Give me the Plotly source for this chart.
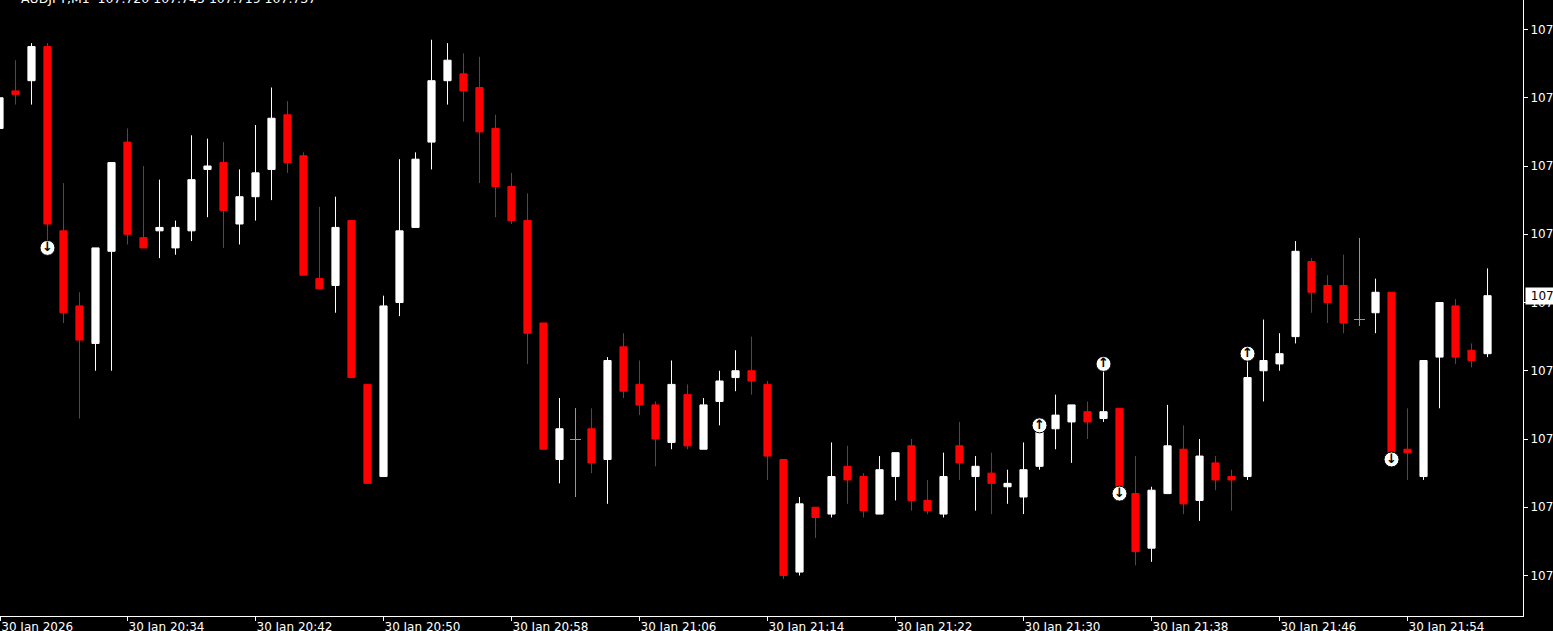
import plotly.graph_objects as go
import pandas as pd

# ---- data (AUDJPY M1, 30 Jan 2026) ----
times = pd.date_range("2026-01-30 20:26", periods=94, freq="min")

opens = [107.786, 107.797, 107.800, 107.810, 107.756, 107.734, 107.723, 107.750, 107.782, 107.754,
         107.756, 107.751, 107.756, 107.774, 107.776, 107.758, 107.766, 107.774, 107.790, 107.778,
         107.742, 107.740, 107.759, 107.711, 107.684, 107.735, 107.757, 107.782, 107.800, 107.802,
         107.798, 107.786, 107.769, 107.759, 107.729, 107.689, 107.695, 107.698, 107.689, 107.722,
         107.711, 107.705, 107.694, 107.708, 107.692, 107.706, 107.713, 107.715, 107.711, 107.689,
         107.656, 107.675, 107.673, 107.687, 107.684, 107.673, 107.684, 107.693, 107.677, 107.673,
         107.693, 107.684, 107.685, 107.681, 107.678, 107.687, 107.698, 107.700, 107.703, 107.701,
         107.704, 107.679, 107.663, 107.679, 107.692, 107.677, 107.688, 107.684, 107.684, 107.715,
         107.717, 107.725, 107.747, 107.740, 107.740, 107.730, 107.732, 107.738, 107.692, 107.684,
         107.719, 107.734, 107.721, 107.720]
highs = [107.796, 107.806, 107.811, 107.811, 107.770, 107.738, 107.751, 107.776, 107.786, 107.775,
         107.771, 107.759, 107.784, 107.783, 107.782, 107.774, 107.787, 107.798, 107.794, 107.779,
         107.763, 107.766, 107.759, 107.711, 107.737, 107.777, 107.779, 107.812, 107.811, 107.808,
         107.807, 107.790, 107.773, 107.767, 107.729, 107.707, 107.704, 107.704, 107.719, 107.726,
         107.718, 107.706, 107.718, 107.711, 107.707, 107.715, 107.721, 107.725, 107.712, 107.689,
         107.678, 107.675, 107.694, 107.693, 107.685, 107.690, 107.691, 107.695, 107.683, 107.691,
         107.700, 107.690, 107.691, 107.686, 107.694, 107.699, 107.708, 107.705, 107.706, 107.717,
         107.704, 107.690, 107.681, 107.705, 107.699, 107.695, 107.690, 107.686, 107.720, 107.730,
         107.726, 107.753, 107.748, 107.743, 107.749, 107.754, 107.742, 107.738, 107.704, 107.718,
         107.735, 107.736, 107.723, 107.745]
lows = [107.785, 107.793, 107.793, 107.752, 107.729, 107.701, 107.715, 107.715, 107.752, 107.751,
        107.748, 107.749, 107.753, 107.760, 107.751, 107.752, 107.759, 107.765, 107.773, 107.743,
        107.739, 107.732, 107.713, 107.682, 107.684, 107.731, 107.757, 107.774, 107.793, 107.788,
        107.770, 107.760, 107.758, 107.717, 107.692, 107.682, 107.678, 107.685, 107.676, 107.707,
        107.702, 107.687, 107.692, 107.692, 107.692, 107.699, 107.709, 107.708, 107.683, 107.654,
        107.655, 107.666, 107.672, 107.676, 107.672, 107.673, 107.677, 107.674, 107.673, 107.672,
        107.683, 107.674, 107.673, 107.676, 107.673, 107.686, 107.692, 107.688, 107.695, 107.700,
        107.679, 107.658, 107.659, 107.679, 107.673, 107.671, 107.680, 107.674, 107.683, 107.706,
        107.715, 107.723, 107.732, 107.729, 107.726, 107.728, 107.726, 107.689, 107.683, 107.683,
        107.704, 107.717, 107.716, 107.719]
closes = [107.795, 107.796, 107.810, 107.758, 107.732, 107.724, 107.751, 107.776, 107.755, 107.751,
          107.757, 107.757, 107.771, 107.775, 107.762, 107.766, 107.773, 107.789, 107.776, 107.743,
          107.739, 107.757, 107.713, 107.682, 107.734, 107.756, 107.777, 107.800, 107.806, 107.797,
          107.785, 107.769, 107.759, 107.726, 107.692, 107.698, 107.695, 107.688, 107.718, 107.709,
          107.705, 107.695, 107.711, 107.693, 107.705, 107.712, 107.715, 107.712, 107.690, 107.655,
          107.676, 107.672, 107.684, 107.683, 107.674, 107.686, 107.691, 107.677, 107.674, 107.684,
          107.688, 107.687, 107.682, 107.682, 107.686, 107.699, 107.702, 107.705, 107.700, 107.703,
          107.680, 107.662, 107.680, 107.693, 107.676, 107.690, 107.683, 107.683, 107.713, 107.718,
          107.720, 107.750, 107.738, 107.735, 107.729, 107.730, 107.738, 107.691, 107.691, 107.718,
          107.735, 107.719, 107.718, 107.737]

# trade arrows
arrow_times = ["2026-01-30 20:29", "2026-01-30 21:31", "2026-01-30 21:35",
               "2026-01-30 21:36", "2026-01-30 21:44", "2026-01-30 21:53"]
arrow_prices = [107.751, 107.699, 107.717, 107.679, 107.720, 107.689]
arrow_dirs = ["down", "up", "up", "down", "up", "down"]

symbol_title = "AUDJPY,M1  107.720 107.745 107.719 107.737"
current_price = 107.737

y_tickvals = [107.655, 107.675, 107.695, 107.715, 107.735, 107.755, 107.775, 107.795, 107.815]
x_tick_times = ["2026-01-30 20:26:03", "2026-01-30 20:34", "2026-01-30 20:42", "2026-01-30 20:50",
                "2026-01-30 20:58", "2026-01-30 21:06", "2026-01-30 21:14", "2026-01-30 21:22",
                "2026-01-30 21:30", "2026-01-30 21:38", "2026-01-30 21:46", "2026-01-30 21:54"]
x_tick_text = ["30 Jan 2026", "30 Jan 20:34", "30 Jan 20:42", "30 Jan 20:50", "30 Jan 20:58",
               "30 Jan 21:06", "30 Jan 21:14", "30 Jan 21:22", "30 Jan 21:30", "30 Jan 21:38",
               "30 Jan 21:46", "30 Jan 21:54"]

# ---- split candles: normal vs doji ----
n = len(times)
is_doji = [opens[i] == closes[i] for i in range(n)]

def keep(lst, want):
    return [v if is_doji[i] == want else None for i, v in enumerate(lst)]

FONT = "DejaVu Sans"
fig = go.Figure()
fig.add_trace(go.Candlestick(
    x=list(times), open=keep(opens, False), high=keep(highs, False),
    low=keep(lows, False), close=keep(closes, False),
    increasing=dict(line=dict(color="#ffffff", width=1), fillcolor="#ffffff"),
    decreasing=dict(line=dict(color="#ff0000", width=1), fillcolor="#ff0000"),
    whiskerwidth=0, showlegend=False, hoverinfo="skip"))
# doji bars (open == close) drawn as green crosses
fig.add_trace(go.Ohlc(
    x=list(times), open=keep(opens, True), high=keep(highs, True),
    low=keep(lows, True), close=keep(closes, True),
    increasing=dict(line=dict(color="#00ff00", width=1)),
    decreasing=dict(line=dict(color="#00ff00", width=1)),
    tickwidth=0.34, showlegend=False, hoverinfo="skip"))

# trade arrow icons
fig.add_trace(go.Scatter(
    x=arrow_times, y=arrow_prices, mode="markers",
    marker=dict(symbol="circle", size=15, color="#ffffff", line=dict(color="#000000", width=1)),
    showlegend=False, hoverinfo="skip"))
fig.add_trace(go.Scatter(
    x=arrow_times, y=arrow_prices, mode="text",
    text=["<b>\u2191</b>" if d == "up" else "<b>\u2193</b>" for d in arrow_dirs],
    textposition="middle center",
    textfont=dict(family=FONT, size=13, color="#000000"),
    showlegend=False, hoverinfo="skip"))

fig.update_layout(
    width=1553, height=631,
    paper_bgcolor="#000000", plot_bgcolor="#000000",
    margin=dict(l=0, r=30, t=0, b=15, pad=0),
    boxgap=0.36,
    font=dict(family=FONT, size=12, color="#ffffff"),
    showlegend=False,
    xaxis=dict(
        type="date",
        range=["2026-01-30 20:26:01.9", "2026-01-30 22:01:13"],
        rangeslider=dict(visible=False),
        showgrid=False, zeroline=False,
        showline=True, linecolor="#ffffff", linewidth=1,
        ticks="outside", ticklen=4, tickcolor="#ffffff", tickwidth=1,
        tickvals=x_tick_times, ticktext=x_tick_text,
        ticklabelposition="outside right",
        tickfont=dict(family=FONT, size=12, color="#ffffff"),
        automargin=False, fixedrange=True,
    ),
    yaxis=dict(
        side="right",
        range=[107.643132, 107.823645],
        showgrid=False, zeroline=False,
        showline=True, linecolor="#ffffff", linewidth=1,
        ticks="outside", ticklen=4, tickcolor="#ffffff", tickwidth=1,
        tickvals=y_tickvals, ticktext=[f"{v:.3f}" for v in y_tickvals],
        tickfont=dict(family=FONT, size=12, color="#ffffff"),
        automargin=False, fixedrange=True,
    ),
    annotations=[
        dict(text=symbol_title, xref="paper", yref="paper", x=0, y=1,
             xanchor="left", yanchor="top", xshift=19, yshift=11, showarrow=False,
             font=dict(family=FONT, size=12.5, color="#ffffff")),
        dict(text="\u00a0" + f"{current_price:.3f}", xref="paper", yref="y", x=1, y=current_price,
             xanchor="left", yanchor="middle", xshift=1.5, showarrow=False,
             bgcolor="#ffffff", borderpad=1,
             font=dict(family=FONT, size=12, color="#000000")),
    ],
)

fig.write_html(
    "out.html", config={"displayModeBar": False},
    post_script=("document.body.style.margin='0';document.body.style.overflow='hidden';"
                 "document.querySelectorAll('g.trace.ohlc path').forEach(function(p){"
                 "p.style.shapeRendering='crispEdges';});"))
